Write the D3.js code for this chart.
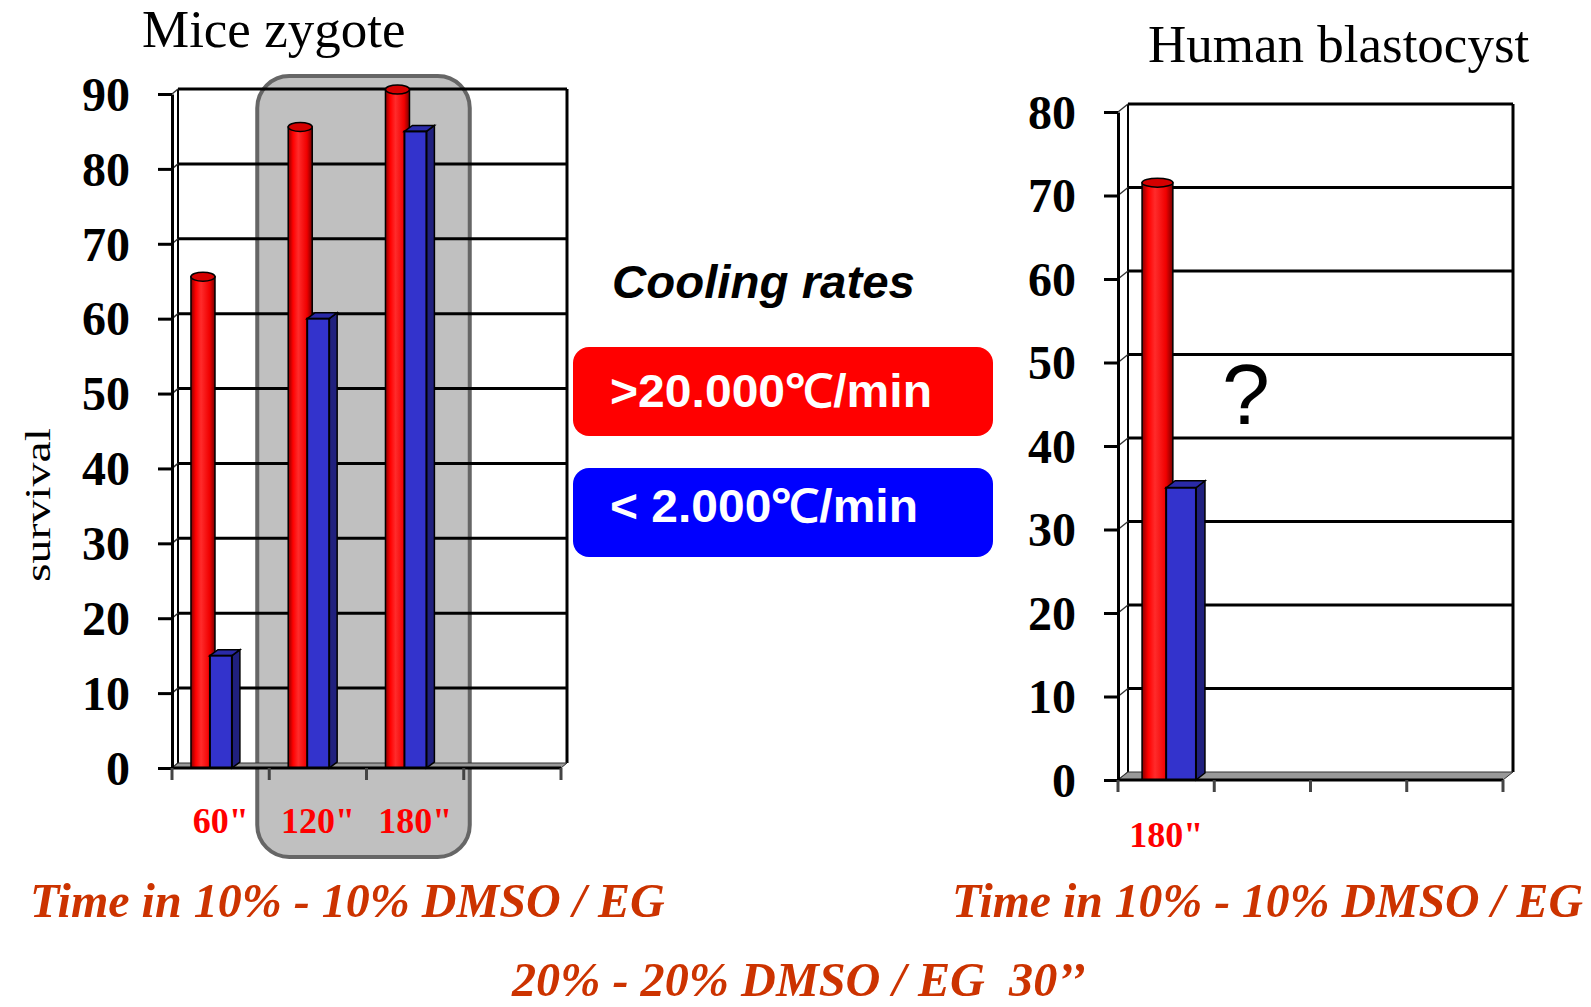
<!DOCTYPE html>
<html>
<head>
<meta charset="utf-8">
<script src="https://cdn.jsdelivr.net/npm/d3@7"></script>
<style>body{margin:0;background:#fff}</style>
</head>
<body>
<script>
// ---- data ----
const miceLabels = ['60"', '120"', '180"', ''];
const miceFast = [65, 85, 90];
const miceSlow = [15, 60, 85];
const miceTicks = [0, 10, 20, 30, 40, 50, 60, 70, 80, 90];

const humanLabels = ['180"', '', '', ''];
const humanFast = [71];
const humanSlow = [35];
const humanTicks = [0, 10, 20, 30, 40, 50, 60, 70, 80];

const legendItems = ['>20.000\u2103/min', '< 2.000\u2103/min'];
const legendColors = ['#ff0000', '#0000ff'];

const serif = '"Liberation Serif", "Times New Roman", serif';
const sans = '"Liberation Sans", Arial, sans-serif';
const noteColor = '#cc3300';

let svg = d3.select('body').append('svg')
    .attr('width', 1591)
    .attr('height', 1007);

// cylinder shading
let grad = svg.append('defs').append('linearGradient')
    .attr('id', 'cyl').attr('x1', '0%').attr('x2', '100%');
[[0, '#850000'], [0.2, '#ff0000'], [0.42, '#ff2b2b'], [0.78, '#f00000'], [1, '#780000']]
    .forEach(s => grad.append('stop').attr('offset', s[0]).attr('stop-color', s[1]));


function drawChart(o) {
    let g = svg.append('g');

    let x = d3.scaleBand().domain(d3.range(o.labels.length)).range(o.xRange);
    let y = d3.scaleLinear().domain([0, d3.max(o.ticks)]).range(o.yRange);
    let bw = x.bandwidth();
    let [dx, dy] = o.depth;
    let [bdx, bdy] = o.barDepth;
    let x0 = o.xRange[0], x1 = o.xRange[1];
    let y0 = y(0), yMax = y(d3.max(o.ticks));

    // highlight box behind some categories
    if (o.highlight) {
        let hx0 = x(o.highlight[0]) - 12;
        let hx1 = x(o.highlight[1]) + bw + 6;
        g.append('rect')
            .attr('x', hx0).attr('y', yMax - 18)
            .attr('width', hx1 - hx0).attr('height', y0 - yMax + 107)
            .attr('rx', 32)
            .attr('fill', '#c0c0c0')
            .attr('stroke', '#666')
            .attr('stroke-width', 4);
    }

    // back wall edges
    g.append('line')
        .attr('x1', x0 + dx).attr('x2', x0 + dx)
        .attr('y1', yMax + dy).attr('y2', y0 + dy)
        .attr('stroke', '#000').attr('stroke-width', 2);
    g.append('line')
        .attr('x1', x1 + dx).attr('x2', x1 + dx)
        .attr('y1', yMax + dy).attr('y2', y0 + dy)
        .attr('stroke', '#000').attr('stroke-width', 3);

    // gridlines on the back wall
    g.selectAll('line.grid')
        .data(o.ticks.filter(t => t > 0))
        .enter().append('line')
        .attr('class', 'grid')
        .attr('x1', x0 + dx).attr('x2', x1 + dx)
        .attr('y1', t => y(t) + dy).attr('y2', t => y(t) + dy)
        .attr('stroke', '#000')
        .attr('stroke-width', 3);

    // side wall connectors
    g.selectAll('line.conn')
        .data(o.ticks)
        .enter().append('line')
        .attr('class', 'conn')
        .attr('x1', x0).attr('x2', x0 + dx)
        .attr('y1', t => y(t)).attr('y2', t => y(t) + dy)
        .attr('stroke', '#333')
        .attr('stroke-width', 1.5);

    // floor
    g.append('path')
        .attr('d', `M${x0},${y0}L${x1},${y0}L${x1 + dx},${y0 + dy}L${x0 + dx},${y0 + dy}Z`)
        .attr('fill', '#999')
        .attr('stroke', '#333')
        .attr('stroke-width', 1);

    // red cylinders
    let ry = 4.5;
    let cyl = g.selectAll('g.cyl')
        .data(o.fast)
        .enter().append('g')
        .attr('class', 'cyl');
    cyl.append('rect')
        .attr('x', (d, i) => x(i) + bw * o.red[0])
        .attr('y', d => y(d) - ry)
        .attr('width', bw * o.red[1])
        .attr('height', d => y0 - y(d) + ry)
        .attr('fill', 'url(#cyl)')
        .attr('stroke', '#000')
        .attr('stroke-width', 1.5);
    cyl.append('ellipse')
        .attr('cx', (d, i) => x(i) + bw * (o.red[0] + o.red[1] / 2))
        .attr('cy', d => y(d) - ry)
        .attr('rx', bw * o.red[1] / 2)
        .attr('ry', ry)
        .attr('fill', '#d40000')
        .attr('stroke', '#000')
        .attr('stroke-width', 1.5);

    // blue boxes
    let box = g.selectAll('g.box')
        .data(o.slow)
        .enter().append('g')
        .attr('class', 'box');
    let bl = i => x(i) + bw * o.blue[0];
    let br = i => x(i) + bw * (o.blue[0] + o.blue[1]);
    box.append('path')
        .attr('d', (d, i) => `M${br(i)},${y(d)}L${br(i) + bdx},${y(d) + bdy}L${br(i) + bdx},${y0 + bdy}L${br(i)},${y0}Z`)
        .attr('fill', '#20207e')
        .attr('stroke', '#000')
        .attr('stroke-width', 1.5);
    box.append('path')
        .attr('d', (d, i) => `M${bl(i)},${y(d)}L${bl(i) + bdx},${y(d) + bdy}L${br(i) + bdx},${y(d) + bdy}L${br(i)},${y(d)}Z`)
        .attr('fill', '#2a2aa8')
        .attr('stroke', '#000')
        .attr('stroke-width', 1.5);
    box.append('rect')
        .attr('x', (d, i) => bl(i))
        .attr('y', d => y(d))
        .attr('width', bw * o.blue[1])
        .attr('height', d => y0 - y(d))
        .attr('fill', '#3333cc')
        .attr('stroke', '#000')
        .attr('stroke-width', 2);

    // y axis
    let yAxis = d3.axisLeft(y)
        .tickValues(o.ticks)
        .tickSize(14)
        .tickSizeOuter(0)
        .tickPadding(28);
    let ya = g.append('g')
        .attr('transform', `translate(${x0},0)`)
        .call(yAxis);
    ya.select('.domain').attr('stroke', '#000').attr('stroke-width', 3);
    ya.selectAll('.tick line').attr('stroke', '#000').attr('stroke-width', 3);
    ya.selectAll('.tick text')
        .attr('font-family', serif)
        .attr('font-weight', 'bold')
        .attr('font-size', 48)
        .attr('dy', '0.34em')
        .attr('fill', '#000');

    // x axis
    g.append('line')
        .attr('x1', x0).attr('x2', x1)
        .attr('y1', y0).attr('y2', y0)
        .attr('stroke', '#000').attr('stroke-width', 3);

    let edges = d3.range(o.labels.length).map(i => x(i)).concat([x1]);
    g.selectAll('line.xtick')
        .data(edges)
        .enter().append('line')
        .attr('class', 'xtick')
        .attr('x1', d => d).attr('x2', d => d)
        .attr('y1', y0).attr('y2', y0 + 12)
        .attr('stroke', '#444')
        .attr('stroke-width', 3);

    g.selectAll('text.xlab')
        .data(o.labels)
        .enter().append('text')
        .attr('class', 'xlab')
        .attr('x', (d, i) => x(i) + bw / 2)
        .attr('y', y0 + o.labelGap)
        .attr('text-anchor', 'middle')
        .attr('font-family', serif)
        .attr('font-weight', 'bold')
        .attr('font-size', 36)
        .attr('fill', '#ff0000')
        .text(d => d);

    // title
    g.append('text')
        .attr('x', o.title[1])
        .attr('y', o.title[2])
        .attr('font-family', serif)
        .attr('font-size', 53)
        .attr('fill', '#000')
        .text(o.title[0]);

    return {x, y};
}


drawChart({
    labels: miceLabels, fast: miceFast, slow: miceSlow, ticks: miceTicks,
    xRange: [172, 561], yRange: [768, 94],
    depth: [6, -5], barDepth: [8, -6],
    red: [0.195, 0.247], blue: [0.39, 0.226],
    labelGap: 65,
    highlight: [1, 2],
    title: ['Mice zygote', 142, 47]
});

drawChart({
    labels: humanLabels, fast: humanFast, slow: humanSlow, ticks: humanTicks,
    xRange: [1118, 1503], yRange: [780, 112],
    depth: [10, -8], barDepth: [9, -7],
    red: [0.25, 0.32], blue: [0.5, 0.31],
    labelGap: 67,
    title: ['Human blastocyst', 1148, 62]
});

// y axis title
svg.append('text')
    .attr('transform', 'translate(50,505) rotate(-90)')
    .attr('text-anchor', 'middle')
    .attr('font-family', serif)
    .attr('font-size', 36)
    .attr('textLength', 154)
    .attr('lengthAdjust', 'spacingAndGlyphs')
    .text('survival');

// question mark
svg.append('text')
    .attr('x', 1222)
    .attr('y', 424)
    .attr('font-family', sans)
    .attr('font-size', 86)
    .attr('fill', '#000')
    .text('?');

// legend
svg.append('text')
    .attr('x', 612)
    .attr('y', 298)
    .attr('font-family', sans)
    .attr('font-weight', 'bold')
    .attr('font-style', 'italic')
    .attr('font-size', 47)
    .attr('textLength', 303)
    .attr('lengthAdjust', 'spacingAndGlyphs')
    .text('Cooling rates');

let legend = svg.selectAll('g.legend')
    .data(legendItems)
    .enter().append('g')
    .attr('class', 'legend')
    .attr('transform', (d, i) => `translate(573,${347 + i * 121})`);

legend.append('rect')
    .attr('width', 420)
    .attr('height', 89)
    .attr('rx', 16)
    .attr('fill', (d, i) => legendColors[i]);

legend.append('text')
    .attr('x', 37)
    .attr('y', (d, i) => i === 0 ? 60 : 54)
    .attr('font-family', sans)
    .attr('font-weight', 'bold')
    .attr('font-size', 46)
    .attr('fill', '#fff')
    .attr('textLength', (d, i) => i === 0 ? 322 : 308)
    .attr('lengthAdjust', 'spacingAndGlyphs')
    .text(d => d);

// notes under the charts (condensed by a horizontal scale)
let notes = [
    {t: 'Time in 10% - 10% DMSO / EG', x: 30, y: 917, w: 635},
    {t: 'Time in 10% - 10% DMSO / EG', x: 952, y: 917, w: 631},
    {t: '20% - 20% DMSO / EG  30\u2019\u2019', x: 512, y: 996, w: 574}
];
let noteText = svg.selectAll('text.note')
    .data(notes)
    .enter().append('text')
    .attr('class', 'note')
    .attr('font-family', serif)
    .attr('font-weight', 'bold')
    .attr('font-style', 'italic')
    .attr('font-size', 49)
    .attr('fill', noteColor)
    .style('white-space', 'pre')
    .text(d => d.t);
noteText.attr('transform', function(d) {
    let k = d.w / this.getComputedTextLength();
    return `translate(${d.x},${d.y}) scale(${k},1)`;
});
</script>
</body>
</html>
